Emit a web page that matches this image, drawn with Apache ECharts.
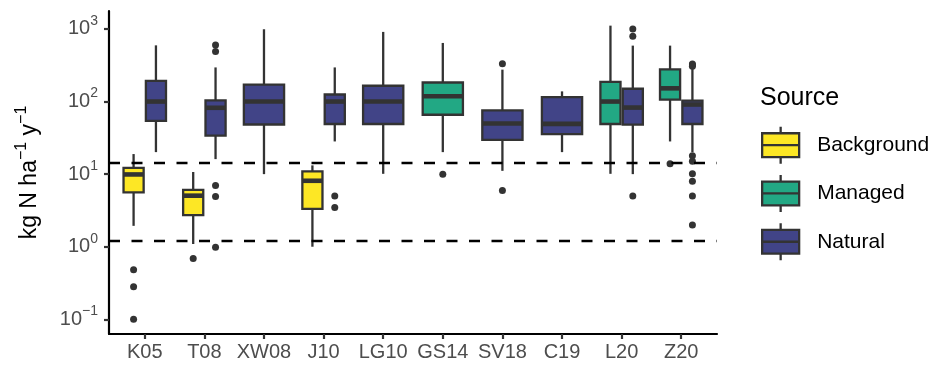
<!DOCTYPE html>
<html>
<head>
<meta charset="utf-8">
<script src="https://cdn.jsdelivr.net/npm/echarts@6/dist/echarts.min.js"></script>
<style>
  html, body { margin: 0; padding: 0; background: #fff; }
  #chart { width: 932px; height: 369px; }
</style>
</head>
<body>
<div id="chart"></div>
<script>
// categories on the x axis
var categories = ['K05', 'T08', 'XW08', 'J10', 'LG10', 'GS14', 'SV18', 'C19', 'L20', 'Z20'];
var sources = ['Background', 'Managed', 'Natural'];

// box stats: [category, lower whisker, Q1, median, Q3, upper whisker]
var backgroundBoxes = [
  ['K05', 1.94, 5.6, 9.9, 12.2, 18.9],
  ['T08', 1.09, 2.72, 5.05, 6.07, 10.7],
  ['J10', 1.0, 3.32, 8.1, 10.9, 13.2]
];
var managedBoxes = [
  ['GS14', 20.1, 65.8, 118, 183, 641],
  ['L20', 10.1, 49, 100, 187, 1110],
  ['Z20', 28.2, 106, 152, 277, 589]
];
var naturalBoxes = [
  ['K05', 20.1, 54.3, 100, 192, 594],
  ['T08', 16.1, 34, 82, 103.5, 295],
  ['XW08', 10, 48.3, 100, 171, 990],
  ['J10', 28.2, 49, 100, 125, 295],
  ['LG10', 10.1, 49, 100, 165, 910],
  ['SV18', 11.1, 29.7, 49.8, 75.4, 275],
  ['C19', 20.1, 35.6, 49.3, 115, 138],
  ['L20', 10, 48, 82.6, 150, 589],
  ['Z20', 20.1, 49, 91, 102.6, 290]
];

// outliers: [category, value]
var backgroundOutliers = [
  ['K05', 0.48], ['K05', 0.28], ['K05', 0.1], ['T08', 0.69]
];
var managedOutliers = [
  ['GS14', 10], ['Z20', 13.9]
];
var naturalOutliers = [
  ['T08', 600], ['T08', 490], ['T08', 7.0], ['T08', 4.9], ['T08', 0.98],
  ['J10', 5.0], ['J10', 3.46],
  ['SV18', 332], ['SV18', 5.94],
  ['L20', 1000], ['L20', 791], ['L20', 4.98],
  ['Z20', 330], ['Z20', 318], ['Z20', 305],
  ['Z20', 17.9], ['Z20', 15.1], ['Z20', 10.1], ['Z20', 8.0], ['Z20', 5.0], ['Z20', 2.0]
];

// dashed reference lines
var thresholds = [14.2, 1.21];
var yTicks = [0.1, 1, 10, 100, 1000];

var colors = { Background: '#FDE725', Managed: '#22A884', Natural: '#414487' };
var boxesBySource = { Background: backgroundBoxes, Managed: managedBoxes, Natural: naturalBoxes };
var outliersBySource = { Background: backgroundOutliers, Managed: managedOutliers, Natural: naturalOutliers };

// dodge like ggplot: groups present at a category share the span
var SPAN = 0.75;
function slotOf(source, cat) {
  var present = sources.filter(function (s) {
    return boxesBySource[s].some(function (b) { return b[0] === cat; });
  });
  var n = present.length;
  var i = present.indexOf(source);
  var slot = SPAN / n;
  return { x: categories.indexOf(cat) - SPAN / 2 + slot * (i + 0.5), w: slot * 0.9 };
}

function renderBox(params, api) {
  var x = api.value(0), w = api.value(1);
  var yLo = api.coord([x, api.value(2)])[1];
  var yQ1 = api.coord([x, api.value(3)])[1];
  var yMed = api.coord([x, api.value(4)])[1];
  var yQ3 = api.coord([x, api.value(5)])[1];
  var yHi = api.coord([x, api.value(6)])[1];
  var cx = api.coord([x, api.value(4)])[0];
  var left = api.coord([x - w / 2, api.value(4)])[0];
  var right = api.coord([x + w / 2, api.value(4)])[0];
  var line = { stroke: '#333333', lineWidth: 2.3 };
  return {
    type: 'group',
    children: [
      { type: 'line', shape: { x1: cx, y1: yHi, x2: cx, y2: yQ3 }, style: line },
      { type: 'line', shape: { x1: cx, y1: yQ1, x2: cx, y2: yLo }, style: line },
      { type: 'rect', shape: { x: left, y: yQ3, width: right - left, height: yQ1 - yQ3 },
        style: { fill: api.visual('color'), stroke: '#333333', lineWidth: 2.3 } },
      { type: 'line', shape: { x1: left, y1: yMed, x2: right, y2: yMed },
        style: { stroke: '#333333', lineWidth: 4.6 } }
    ]
  };
}

var series = [];
sources.forEach(function (s) {
  series.push({
    name: s,
    type: 'custom',
    renderItem: renderBox,
    itemStyle: { color: colors[s] },
    encode: { x: 0, y: [2, 3, 4, 5, 6] },
    data: boxesBySource[s].map(function (b) {
      var p = slotOf(s, b[0]);
      return [p.x, p.w, b[1], b[2], b[3], b[4], b[5]];
    }),
    z: 3
  });
  series.push({
    name: s + ' outliers',
    type: 'scatter',
    symbolSize: 7,
    itemStyle: { color: '#333333', opacity: 1 },
    data: outliersBySource[s].map(function (o) {
      return [slotOf(s, o[0]).x, o[1]];
    }),
    z: 2
  });
});
series.push({
  name: 'thresholds',
  type: 'line',
  data: [],
  markLine: {
    silent: true,
    symbol: 'none',
    label: { show: false },
    lineStyle: { color: '#000', width: 2.3, type: [11, 11.5] },
    data: thresholds.map(function (t) { return { yAxis: t }; })
  },
  z: 5
});

var legendIcon = 'path://M18.5,0L18.5,6.6M0,6.6L37,6.6L37,30.4L0,30.4ZM0,18.5L37,18.5M18.5,30.4L18.5,37';
var FONT = '"Liberation Sans", Arial, Helvetica, sans-serif';

var chart = echarts.init(document.getElementById('chart'));
chart.setOption({
  animation: false,
  textStyle: { fontFamily: FONT },
  grid: { left: 109, right: 215, top: 11, bottom: 35 },
  title: {
    text: 'Source',
    left: 755,
    top: 81,
    textStyle: { fontSize: 25, fontWeight: 'normal', color: '#000', fontFamily: FONT }
  },
  legend: {
    orient: 'vertical',
    left: 761,
    top: 125.5,
    padding: 0,
    itemWidth: 37,
    itemHeight: 37,
    itemGap: 9,
    selectedMode: false,
    textStyle: { fontSize: 21, color: '#000', padding: [0, 0, 0, 13] },
    data: sources.map(function (s) {
      return {
        name: s,
        icon: legendIcon,
        itemStyle: { color: colors[s], borderColor: '#333333', borderWidth: 2.3 }
      };
    })
  },
  xAxis: {
    type: 'value',
    min: -0.6,
    max: 9.6,
    splitLine: { show: false },
    axisLine: { onZero: false, lineStyle: { color: '#000', width: 2.2 } },
    axisTick: { show: true, length: 5, lineStyle: { color: '#333', width: 2.2 },
      customValues: categories.map(function (c, i) { return i; }) },
    axisLabel: {
      color: '#4D4D4D', fontSize: 20, margin: 8,
      customValues: categories.map(function (c, i) { return i; }),
      formatter: function (v) { return categories[Math.round(v)]; }
    }
  },
  yAxis: {
    type: 'log',
    logBase: 10,
    min: 0.0628,
    max: 1766,
    splitLine: { show: false },
    axisLine: { show: true, onZero: false, lineStyle: { color: '#000', width: 2.2 } },
    axisTick: { show: true, length: 5, lineStyle: { color: '#333', width: 2.2 }, customValues: yTicks },
    axisLabel: {
      color: '#4D4D4D', fontSize: 20, margin: 11, lineHeight: 30,
      customValues: yTicks,
      formatter: function (v) {
        var e = Math.round(Math.log(v) / Math.LN10);
        return '10{s|' + (e < 0 ? '\u2212' + (-e) : e) + '}';
      },
      rich: { s: { fontSize: 14, color: '#4D4D4D', verticalAlign: 'top', fontFamily: FONT } }
    },
    name: 'kg N ha{s|\u22121} y{s|\u22121}',
    nameLocation: 'middle',
    nameGap: 63,
    nameTextStyle: {
      color: '#000', fontSize: 23, lineHeight: 32,
      rich: { s: { fontSize: 16, color: '#000', verticalAlign: 'top', fontFamily: FONT } }
    }
  },
  series: series
});
</script>
</body>
</html>
